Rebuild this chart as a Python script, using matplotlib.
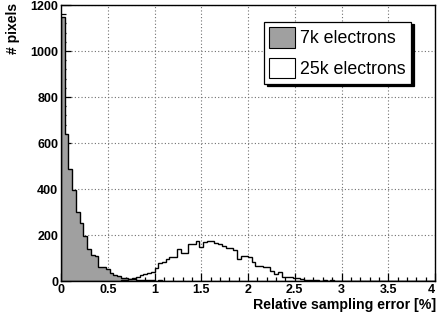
import numpy as np
import matplotlib
matplotlib.use("Agg")
import matplotlib.pyplot as plt
from matplotlib.patches import Patch
from matplotlib.ticker import MultipleLocator

plt.rcParams['font.family'] = ['Liberation Sans', 'DejaVu Sans']

# 100 bins, 0..4, width 0.04
edges = np.linspace(0, 4, 101)

counts_7k = [1150, 640, 487, 396, 301, 254, 197, 139, 112, 108,
             63, 62, 52, 36, 26, 20, 14, 12, 9, 7,
             6, 5, 4, 3, 3, 2, 3, 2, 2, 1,
             2, 1, 1, 1, 0, 1, 0, 0, 1, 0] + [0] * 60

counts_25k = [0] * 13 + [1, 1, 2, 3, 6, 9, 14, 18, 24, 30, 33,
              38, 55, 80, 84, 94, 103, 103, 138, 120, 120,
              163, 163, 175, 150, 168, 176, 172, 164, 160, 152,
              143, 143, 135, 94, 110, 108, 106, 84, 66, 65,
              63, 60, 42, 30, 40, 19, 18, 16, 14, 12,
              8, 6, 5, 4, 3, 2, 3, 2, 3, 1]
counts_25k = counts_25k + [0] * (100 - len(counts_25k))

x_ticks = [0, 0.5, 1, 1.5, 2, 2.5, 3, 3.5, 4]
x_ticklabels = ['0', '0.5', '1', '1.5', '2', '2.5', '3', '3.5', '4']
y_ticks = [0, 200, 400, 600, 800, 1000, 1200]
y_ticklabels = ['0', '200', '400', '600', '800', '1000', '1200']

labels = ['7k electrons', '25k electrons']
fill_grey = '#a0a0a0'

fig = plt.figure(figsize=(4.37, 3.16), dpi=100)
ax = fig.add_axes([61 / 437, 35 / 316, 374 / 437, 276 / 316])

ax.stairs(counts_7k, edges, fill=True, facecolor=fill_grey, edgecolor='none', zorder=2)
ax.stairs(counts_7k, edges, color='black', lw=1.0, zorder=3)
ax.stairs(counts_25k, edges, color='black', lw=1.0, zorder=4)

ax.set_xlim(0, 4)
ax.set_ylim(0, 1200)

ax.set_xticks(x_ticks)
ax.set_xticklabels(x_ticklabels, fontsize=9, fontweight='bold')
ax.set_yticks(y_ticks)
ax.set_yticklabels(y_ticklabels, fontsize=9, fontweight='bold')
ax.xaxis.set_minor_locator(MultipleLocator(0.1))
ax.yaxis.set_minor_locator(MultipleLocator(40))
# last x label sits at the right edge of the figure
ax.get_xticklabels()[-1].set_horizontalalignment('right')

ax.tick_params(which='both', direction='in', top=False, right=False, width=0.9)
ax.tick_params(axis='x', which='major', length=6, pad=2.5)
ax.tick_params(axis='x', which='minor', length=3)
ax.tick_params(axis='y', which='major', length=7, pad=2)
ax.tick_params(axis='y', which='minor', length=3.5)

ax.grid(True, which='major', color='#707070', linestyle=(0, (1, 2)), lw=0.8, zorder=1)
ax.set_axisbelow(True)
for s in ax.spines.values():
    s.set_linewidth(1.0)
    s.set_zorder(5)

fig.text(436 / 437, 1 - 305 / 316, 'Relative sampling error [%]', ha='right', va='center',
         fontsize=10.2, fontweight='bold')
fig.text(12.5 / 437, 1 - 3 / 316, '# pixels', ha='center', va='top', rotation=90,
         fontsize=10, fontweight='bold')

handles = [Patch(facecolor=fill_grey, edgecolor='black', lw=0.8),
           Patch(facecolor='white', edgecolor='black', lw=0.8)]
leg = ax.legend(handles, labels, loc='upper left', bbox_to_anchor=(0.543, 0.9395),
                borderaxespad=0, fontsize=12.8, frameon=True, fancybox=False,
                edgecolor='black', framealpha=1, borderpad=0.3, handlelength=1.42,
                handleheight=1.42, handletextpad=0.3, labelspacing=0.55,
                shadow={'color': 'black', 'alpha': 1})
leg.get_frame().set_linewidth(0.9)
leg.set_zorder(10)

fig.savefig('out.png', dpi=100)
